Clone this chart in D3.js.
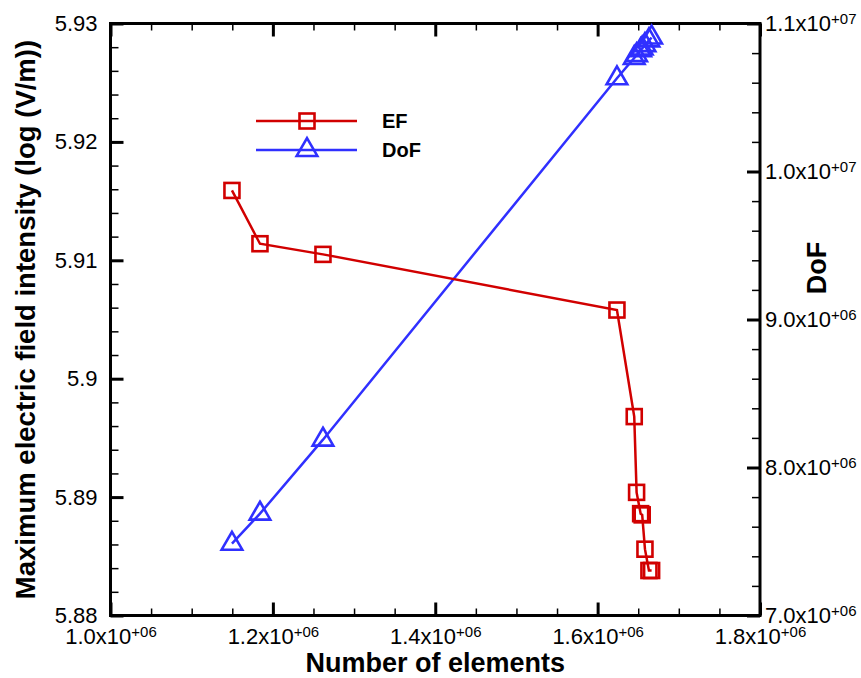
<!DOCTYPE html>
<html><head><meta charset="utf-8">
<script src="https://cdn.jsdelivr.net/npm/d3@7"></script>
<style>body{margin:0;background:#fff} text{font-family:"Liberation Sans",Arial,sans-serif}</style>
</head><body><svg id="c" width="861" height="678"></svg>
<script>
// ---- data ----
const elements = [1149600, 1184100, 1261700, 1623800, 1645100, 1648000, 1653000, 1654900, 1658300, 1663200, 1666500];
const efValues = [5.9159, 5.9114, 5.9105, 5.9058, 5.8968, 5.8904, 5.8886, 5.8885, 5.8856, 5.8838, 5.8838];
const dofValues = [7485000, 7688000, 8188000, 10630000, 10767000, 10786000, 10819000, 10831000, 10854000, 10886000, 10905000];
const seriesNames = ["EF", "DoF"];
const xTickValues = [1.0e6, 1.2e6, 1.4e6, 1.6e6, 1.8e6];
const xTickMantissa = ["1.0x10", "1.2x10", "1.4x10", "1.6x10", "1.8x10"];
const xTickExponent = ["+06", "+06", "+06", "+06", "+06"];
const yLeftTickValues = [5.88, 5.89, 5.90, 5.91, 5.92, 5.93];
const yLeftTickLabels = ["5.88", "5.89", "5.9", "5.91", "5.92", "5.93"];
const yRightTickValues = [7e6, 8e6, 9e6, 1e7, 1.1e7];
const yRightTickMantissa = ["7.0x10", "8.0x10", "9.0x10", "1.0x10", "1.1x10"];
const yRightTickExponent = ["+06", "+06", "+06", "+07", "+07"];
const xTitle = "Number of elements";
const yLeftTitle = "Maximum electric field intensity (log (V/m))";
const yRightTitle = "DoF";

// ---- layout ----
const P = {left: 110.5, right: 760, top: 23.5, bottom: 615.5};
const RED = "#d10000", BLUE = "#3030ff";
const svg = d3.select("#c");
const x = d3.scaleLinear([1.0e6, 1.8e6], [P.left, P.right]);
const yL = d3.scaleLinear([5.88, 5.93], [P.bottom, P.top]);
const yR = d3.scaleLinear([7e6, 1.1e7], [P.bottom, P.top]);

const xMinor = d3.range(1.0e6, 1.8e6 + 1, 0.05e6);
const yLMinor = d3.range(0, 26).map(i => 5.88 + i * 0.002);
const yRMinor = d3.range(0, 21).map(i => 7e6 + i * 0.2e6);

function axisG(ty, tx) { return svg.append("g").attr("transform", `translate(${tx||0},${ty||0})`); }
function styleAxis(g, w) {
  g.select(".domain").remove();
  g.selectAll(".tick line").attr("stroke", "#000").attr("stroke-width", w);
  g.selectAll(".tick text").attr("fill", "#000").style("font-size", "22px");
}
function sup(g, mant, exp) {
  g.selectAll(".tick text").each(function(d, i) {
    const t = d3.select(this); t.text(null);
    t.append("tspan").text(mant[i]);
    t.append("tspan").attr("dy", "-0.5em").style("font-size", "15px").text(exp[i]);
  });
}

// bottom
let g = axisG(P.bottom); g.call(d3.axisBottom(x).tickValues(xMinor).tickSize(-7).tickSizeOuter(0).tickFormat("")); styleAxis(g, 1.5);
g = axisG(P.bottom); g.call(d3.axisBottom(x).tickValues(xTickValues).tickSize(-13).tickSizeOuter(0).tickPadding(13).tickFormat(() => "x")); styleAxis(g, 3);
sup(g, xTickMantissa, xTickExponent);
// top
g = axisG(P.top); g.call(d3.axisTop(x).tickValues(xMinor).tickSize(-7).tickSizeOuter(0).tickFormat("")); styleAxis(g, 1.5);
g = axisG(P.top); g.call(d3.axisTop(x).tickValues(xTickValues).tickSize(-13).tickSizeOuter(0).tickFormat("")); styleAxis(g, 3);
// left
g = axisG(0, P.left); g.call(d3.axisLeft(yL).tickValues(yLMinor).tickSize(-8).tickSizeOuter(0).tickFormat("")); styleAxis(g, 1.5);
g = axisG(0, P.left); g.call(d3.axisLeft(yL).tickValues(yLeftTickValues).tickSize(-13).tickSizeOuter(0).tickPadding(13).tickFormat((d, i) => yLeftTickLabels[i])); styleAxis(g, 3);
// right
g = axisG(0, P.right); g.call(d3.axisRight(yR).tickValues(yRMinor).tickSize(-8).tickSizeOuter(0).tickFormat("")); styleAxis(g, 1.5);
g = axisG(0, P.right); g.call(d3.axisRight(yR).tickValues(yRightTickValues).tickSize(-13).tickSizeOuter(0).tickPadding(5).tickFormat(() => "x")); styleAxis(g, 3);
sup(g, yRightTickMantissa, yRightTickExponent);

// frame
svg.append("rect").attr("x", P.left).attr("y", P.top).attr("width", P.right - P.left).attr("height", P.bottom - P.top)
  .attr("fill", "none").attr("stroke", "#000").attr("stroke-width", 3);

// series
const pts = elements.map((e, i) => ({e, ef: efValues[i], dof: dofValues[i]}));
const sq = 15;
const triPath = d3.symbol(d3.symbolTriangle, 185)();

svg.append("path").datum(pts).attr("fill", "none").attr("stroke", BLUE).attr("stroke-width", 2.5)
  .attr("d", d3.line().x(d => x(d.e)).y(d => yR(d.dof)));
svg.append("g").selectAll("path").data(pts).join("path").attr("d", triPath)
  .attr("transform", d => `translate(${x(d.e)},${yR(d.dof)})`)
  .attr("fill", "none").attr("stroke", BLUE).attr("stroke-width", 2.6);

svg.append("path").datum(pts).attr("fill", "none").attr("stroke", RED).attr("stroke-width", 2.5)
  .attr("d", d3.line().x(d => x(d.e)).y(d => yL(d.ef)));
svg.append("g").selectAll("rect").data(pts).join("rect")
  .attr("x", d => x(d.e) - sq / 2).attr("y", d => yL(d.ef) - sq / 2).attr("width", sq).attr("height", sq)
  .attr("fill", "none").attr("stroke", RED).attr("stroke-width", 2.6);

// legend
const lg = svg.append("g");
[[RED, 121], [BLUE, 150]].forEach(([c, yy], i) => {
  lg.append("line").attr("x1", 256).attr("x2", 357).attr("y1", yy).attr("y2", yy).attr("stroke", c).attr("stroke-width", 2.5);
  if (i === 0) lg.append("rect").attr("x", 307 - sq / 2).attr("y", yy - sq / 2).attr("width", sq).attr("height", sq).attr("fill", "none").attr("stroke", c).attr("stroke-width", 2.6);
  else lg.append("path").attr("d", triPath).attr("transform", `translate(307,${yy})`).attr("fill", "none").attr("stroke", c).attr("stroke-width", 2.6);
  lg.append("text").attr("x", 382).attr("y", yy + 7).style("font-size", "20px").style("font-weight", "bold").text(seriesNames[i]);
});

// titles
svg.append("text").attr("x", (P.left + P.right) / 2).attr("y", 672).attr("text-anchor", "middle")
  .style("font-size", "27px").style("font-weight", "bold").text(xTitle);
svg.append("text").attr("transform", `translate(35,${(P.top + P.bottom) / 2}) rotate(-90)`).attr("text-anchor", "middle")
  .style("font-size", "27.5px").style("font-weight", "bold").text(yLeftTitle);
svg.append("text").attr("transform", `translate(826,268) rotate(-90)`).attr("text-anchor", "middle")
  .style("font-size", "27px").style("font-weight", "bold").text(yRightTitle);
</script></body></html>
